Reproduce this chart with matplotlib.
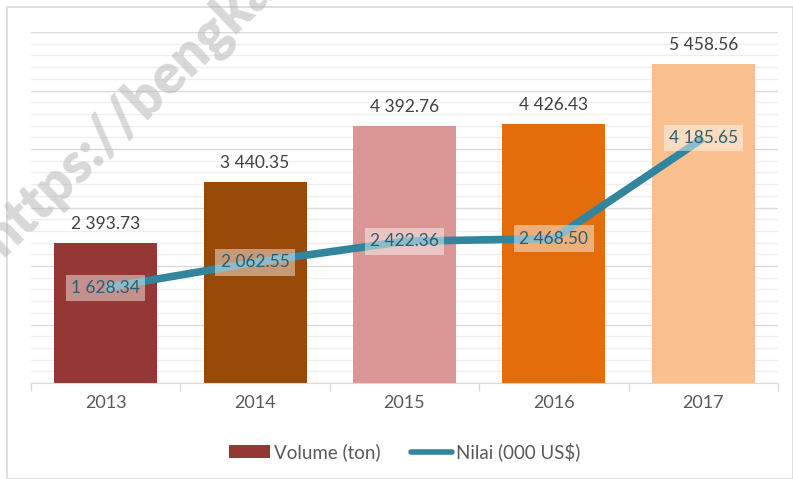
import matplotlib
matplotlib.use("Agg")
import matplotlib.pyplot as plt
import numpy as np
from matplotlib.lines import Line2D
from matplotlib.patches import Patch, Rectangle

years = ["2013", "2014", "2015", "2016", "2017"]
volume = [2393.73, 3440.35, 4392.76, 4426.43, 5458.56]
nilai = [1628.34, 2062.55, 2422.36, 2468.50, 4185.65]
bar_colors = ["#953735", "#984807", "#D99694", "#E46C0A", "#FAC090"]
line_color = "#31859C"

def fmt(v):
    s = f"{v:,.2f}"
    return s.replace(",", " ")

plt.rcParams['font.family'] = ['Lato', 'DejaVu Sans']

fig = plt.figure(figsize=(7.93, 4.79), dpi=100)
W, H = 793, 479
ax = fig.add_axes([31 / W, 1 - 383 / H, (778 - 31) / W, (383 - 32) / H])

x = np.arange(len(years))
ax.bar(x, volume, width=0.69, color=bar_colors, zorder=2)
ax.plot(x, nilai, color=line_color, lw=5.5, solid_capstyle='butt', zorder=3)

for xi, v in zip(x, volume):
    ax.annotate(fmt(v), (xi, v), xytext=(0, 8), textcoords='offset points',
                ha='center', va='bottom', fontsize=12.5, color='#404040', zorder=5)
for xi, v in zip(x, nilai):
    ax.text(xi, v, fmt(v), ha='center', va='center', fontsize=12.5, color='#2b5f70',
            zorder=6, bbox=dict(boxstyle='square,pad=0.3', fc='white', ec='none', alpha=0.45))

ax.set_xlim(-0.5, 4.5)
ax.set_ylim(0, 6000)
ax.set_yticks(np.arange(0, 6001, 1000))
ax.set_yticks(np.arange(0, 6001, 200), minor=True)
ax.grid(axis='y', which='major', color='#d9d9d9', lw=1.0, zorder=0)
ax.grid(axis='y', which='minor', color='#eeeeee', lw=0.9, zorder=0)
ax.tick_params(axis='y', which='both', left=False, labelleft=False)
for s in ['top', 'right', 'left']:
    ax.spines[s].set_visible(False)
ax.spines['bottom'].set_color('#d9d9d9')
ax.set_xticks(x)
ax.set_xticklabels(years, fontsize=13, color='#595959')
ax.tick_params(axis='x', which='major', length=0, pad=9)
ax.set_xticks(np.arange(-0.5, 4.6, 1), minor=True)
ax.tick_params(axis='x', which='minor', length=6, color='#d9d9d9', width=1)

handles = [Patch(facecolor=bar_colors[0], label='Volume (ton)'),
           Line2D([0], [0], color=line_color, lw=4, solid_capstyle='round', label='Nilai (000 US$)')]
fig.legend(handles=handles, loc='center', bbox_to_anchor=(0.51, 1 - 452 / H), ncol=2,
           frameon=False, fontsize=13.5, labelcolor='#595959', handlelength=2.2,
           handleheight=0.7, handletextpad=0.2, columnspacing=1.6)

# figure border
fig.patches.append(Rectangle((7 / W, 0), 1 - 7 / W, 1 - 7 / H, transform=fig.transFigure,
                             fill=False, ec='#d9d9d9', lw=1.2))

# watermark (cut by the top edge, as in the reference)
fig.text(2 / W, 1 - 258 / H, "https://bengka", rotation=44, rotation_mode='anchor',
         fontsize=40, fontweight='heavy', color='#b8b8b8', alpha=0.55, ha='left', va='baseline',
         zorder=10)

fig.savefig("out.png", dpi=100)
